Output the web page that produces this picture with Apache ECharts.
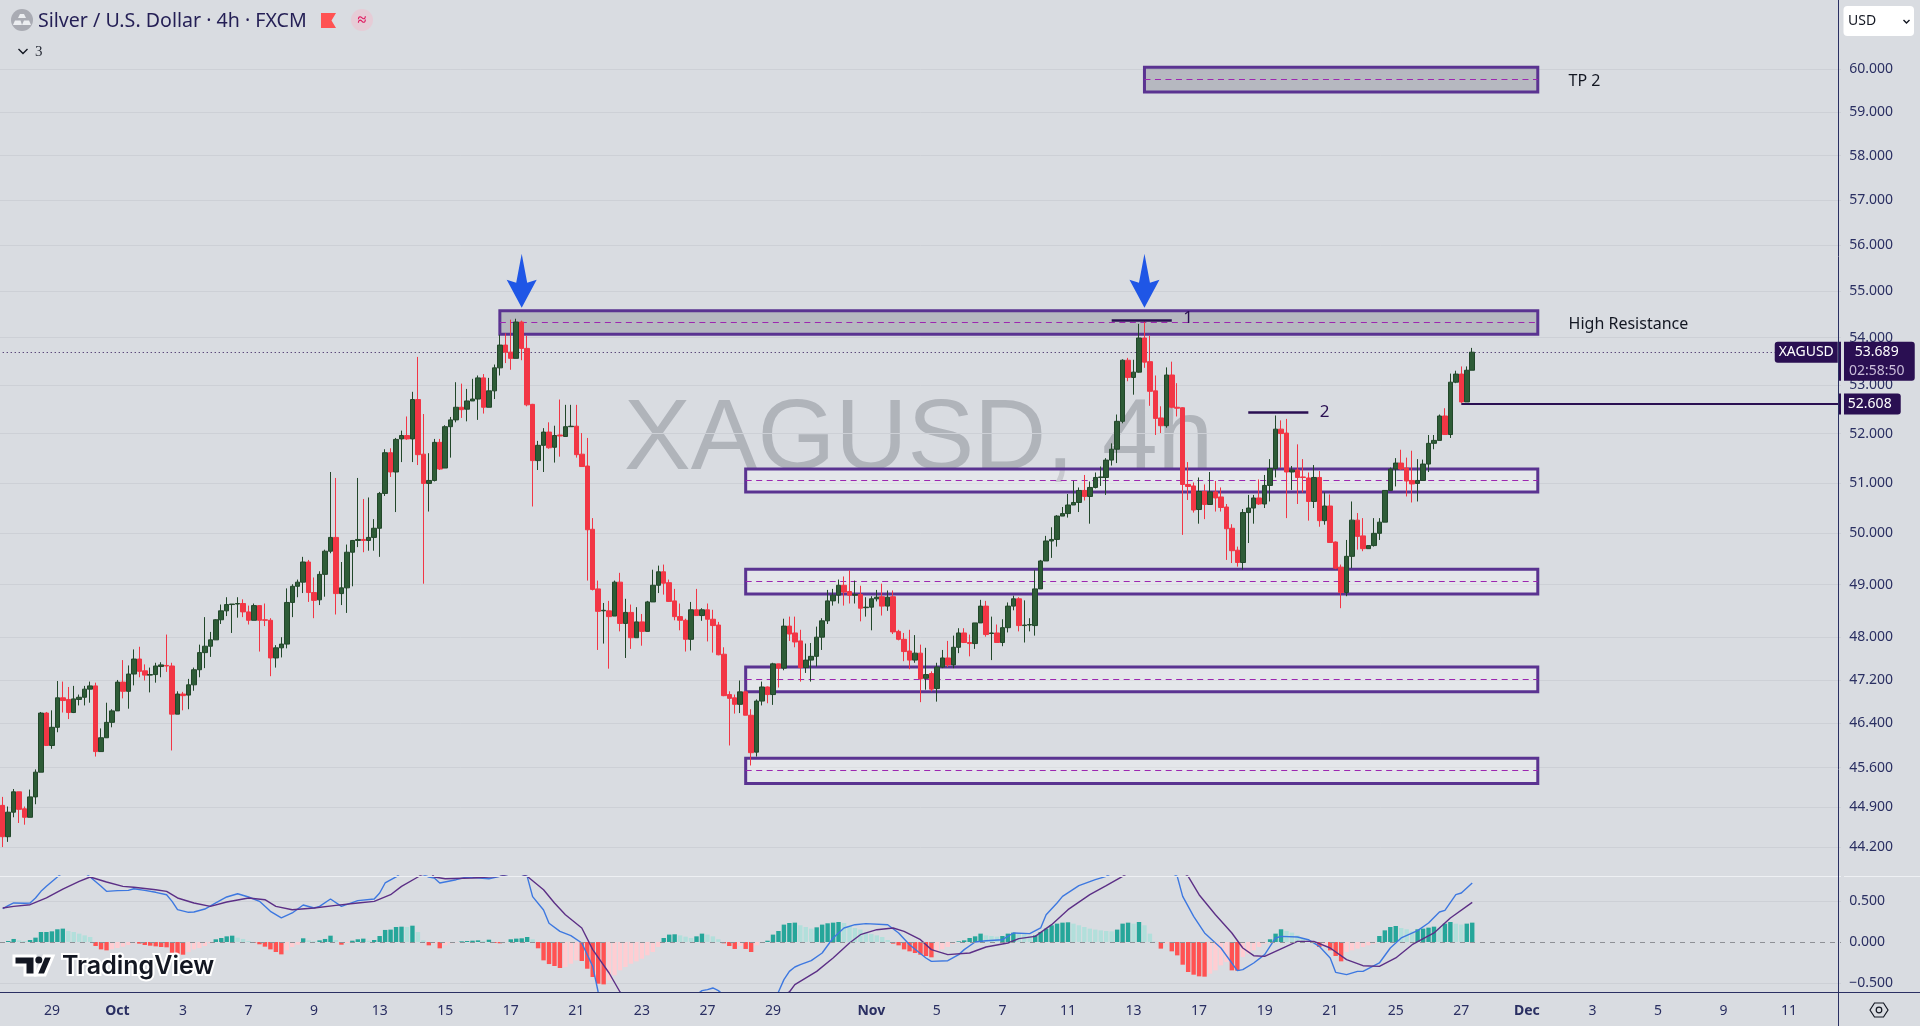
<!DOCTYPE html>
<html>
<head>
<meta charset="utf-8">
<title>Silver / U.S. Dollar 4h</title>
<style>
    html, body { margin: 0; padding: 0; background: #d9dce1; }
    #main { width: 1920px; height: 1026px; }
</style>
<script src="https://cdn.jsdelivr.net/npm/echarts@6/dist/echarts.min.js"></script>
</head>
<body>
<div id="main"></div>
<script>
// 4h candles
var opens = [
    44.93,44.38,44.81,45.17,44.87,44.72,45.08,45.52,46.59,46.00,
    46.33,46.87,46.84,46.60,46.84,46.88,47.03,47.09,45.89,46.14,
    46.42,46.63,47.16,46.99,47.31,47.59,47.37,47.29,47.30,47.45,
    47.47,47.46,46.57,46.94,46.92,47.11,47.39,47.71,47.83,47.95,
    48.33,48.50,48.62,48.63,48.64,48.48,48.32,48.60,48.33,48.32,
    47.61,47.80,47.87,48.66,48.97,49.05,49.44,48.85,48.71,49.20,
    49.65,49.92,48.83,48.94,49.63,49.86,49.88,49.86,49.92,50.10,
    50.79,51.61,51.22,51.89,51.96,51.89,52.70,51.58,50.99,51.05,
    51.82,51.30,52.14,52.28,52.54,52.50,52.67,52.71,53.15,52.54,
    52.88,53.36,53.84,53.69,53.56,54.33,53.77,52.60,51.45,51.76,
    52.03,51.72,51.97,51.94,52.14,52.15,51.58,51.34,50.08,48.92,
    48.50,48.50,48.40,49.05,48.26,48.47,47.99,48.29,48.11,48.67,
    48.99,49.25,49.04,48.69,48.39,48.32,47.96,48.52,48.41,48.52,
    48.34,48.23,47.68,46.93,46.87,46.75,46.98,46.55,45.88,46.81,
    47.07,46.93,47.50,47.42,48.21,48.08,47.93,47.43,47.57,47.64,
    48.00,48.31,48.69,48.80,48.99,48.87,48.80,48.81,48.56,48.57,
    48.73,48.77,48.59,48.77,48.11,47.96,47.74,47.57,47.70,47.23,
    47.32,47.04,47.44,47.61,47.48,47.81,48.08,47.90,47.88,48.27,
    48.59,48.07,48.08,47.90,48.18,48.59,48.73,48.22,48.23,48.22,
    48.92,49.46,49.85,49.88,50.34,50.39,50.56,50.61,50.85,50.73,
    50.91,51.11,51.11,51.46,51.68,52.25,53.52,53.16,53.27,53.99,
    53.49,52.88,52.32,52.16,53.21,52.54,52.53,50.97,50.94,50.47,
    50.83,50.57,50.82,50.72,50.52,50.10,49.67,49.43,50.41,50.50,
    50.70,50.58,50.95,51.29,52.09,52.01,51.22,51.26,51.12,51.10,
    50.63,51.11,50.25,50.54,49.83,49.34,48.85,49.55,50.26,49.95,
    49.70,49.76,50.00,50.22,50.85,51.28,51.40,51.30,51.05,50.99,
    51.05,51.38,51.80,51.86,52.36,51.98,53.06,53.23,52.65,53.31
];
var closes = [
    44.38,44.81,45.17,44.86,44.72,45.08,45.52,46.59,46.00,46.33,
    46.87,46.82,46.60,46.85,46.88,47.03,47.09,45.89,46.14,46.42,
    46.63,47.16,46.99,47.31,47.59,47.36,47.29,47.30,47.46,47.48,
    47.46,46.57,46.94,46.91,47.11,47.39,47.71,47.83,47.95,48.33,
    48.50,48.62,48.63,48.64,48.48,48.32,48.60,48.32,48.32,47.61,
    47.80,47.87,48.66,48.97,49.05,49.44,48.85,48.70,49.20,49.65,
    49.92,48.83,48.94,49.63,49.86,49.88,49.86,49.92,50.10,50.79,
    51.61,51.22,51.88,51.96,51.89,52.70,51.57,50.99,51.05,51.82,
    51.28,52.14,52.28,52.54,52.49,52.67,52.71,53.15,52.54,52.88,
    53.36,53.84,53.69,53.56,54.33,53.77,52.59,51.45,51.76,52.03,
    51.71,51.96,51.95,52.14,52.15,51.57,51.33,50.07,48.91,48.49,
    48.51,48.39,49.05,48.26,48.47,47.99,48.29,48.11,48.67,48.99,
    49.25,49.03,48.68,48.39,48.32,47.96,48.52,48.41,48.52,48.34,
    48.22,47.67,46.91,46.86,46.75,46.98,46.55,45.87,46.81,47.07,
    46.93,47.50,47.42,48.21,48.06,47.91,47.43,47.57,47.64,48.00,
    48.31,48.69,48.80,48.99,48.86,48.80,48.81,48.55,48.57,48.73,
    48.76,48.59,48.76,48.10,47.96,47.73,47.57,47.70,47.22,47.30,
    47.03,47.44,47.61,47.48,47.81,48.08,47.90,47.88,48.27,48.59,
    48.05,48.08,47.90,48.18,48.59,48.73,48.22,48.23,48.24,48.92,
    49.46,49.85,49.88,50.34,50.39,50.56,50.61,50.85,50.73,50.91,
    51.11,51.12,51.46,51.68,52.25,53.52,53.16,53.27,53.99,53.48,
    52.87,52.31,52.16,53.21,52.54,52.52,50.97,50.93,50.46,50.83,
    50.57,50.82,50.70,50.51,50.09,49.66,49.43,50.41,50.50,50.70,
    50.58,50.95,51.29,52.09,52.00,51.22,51.26,51.11,51.11,50.63,
    51.11,50.25,50.54,49.82,49.32,48.85,49.55,50.26,49.94,49.70,
    49.76,50.00,50.22,50.85,51.28,51.40,51.28,51.04,50.98,51.05,
    51.38,51.80,51.86,52.36,51.98,53.06,53.23,52.65,53.31,53.689
];
var lows = [
    44.20,44.29,44.72,44.62,44.59,44.72,44.95,45.52,46.00,45.94,
    46.24,46.60,46.48,46.59,46.73,46.73,46.78,45.80,45.89,46.14,
    46.33,46.63,46.86,46.67,47.10,47.25,47.19,46.97,47.15,47.25,
    47.35,45.91,46.57,46.64,46.66,47.00,47.25,47.42,47.63,47.95,
    48.25,48.40,48.08,48.37,48.38,48.24,48.32,47.73,48.21,47.27,
    47.43,47.62,47.79,48.38,48.76,48.84,48.67,48.36,48.61,48.77,
    49.61,48.43,48.61,48.46,48.97,49.73,49.63,49.66,49.66,49.54,
    50.74,51.12,50.42,51.42,51.87,51.42,51.36,49.02,50.43,51.03,
    51.26,51.30,51.51,52.23,52.32,52.25,52.67,52.28,52.41,52.54,
    52.71,53.20,53.46,53.32,53.56,53.52,52.56,50.53,51.26,51.22,
    51.69,51.41,51.53,51.94,52.14,51.51,51.33,49.08,48.89,47.76,
    47.88,47.41,48.40,48.11,47.61,47.78,47.99,47.84,48.11,48.67,
    48.84,48.81,48.67,48.32,48.13,47.73,47.75,48.41,48.31,47.92,
    47.71,47.66,46.90,46.00,46.58,46.59,46.55,45.64,45.80,46.73,
    46.77,46.74,47.06,47.38,47.93,47.81,47.17,47.33,47.17,47.45,
    47.76,48.25,48.60,48.64,48.60,48.64,48.64,48.30,48.39,48.13,
    48.68,48.41,48.50,48.06,47.94,47.55,47.40,47.52,46.79,47.02,
    46.99,46.80,47.42,47.44,47.42,47.70,47.89,47.64,47.78,48.27,
    48.01,47.57,47.90,47.83,48.09,48.51,48.11,47.90,48.11,48.03,
    48.92,49.46,49.52,49.74,50.34,50.31,50.56,50.42,50.65,50.19,
    50.89,50.94,50.76,51.35,51.40,52.21,53.08,52.80,53.26,53.36,
    52.57,51.97,52.01,52.12,52.52,52.35,49.97,50.66,50.41,50.19,
    50.28,50.57,50.43,50.43,49.48,49.42,49.35,49.29,49.81,50.19,
    50.56,50.50,50.63,51.11,51.30,50.30,50.86,50.58,50.81,50.25,
    50.50,50.13,50.17,49.82,49.30,48.55,48.78,49.32,49.68,49.65,
    49.70,49.74,49.87,50.22,50.85,50.93,51.26,50.73,50.61,50.63,
    51.05,51.22,51.68,51.86,51.97,51.91,53.04,52.63,52.65,53.31
];
var highs = [
    45.08,44.91,45.22,45.17,44.91,45.21,45.57,46.61,46.61,46.64,
    47.18,47.17,47.07,47.09,46.93,47.09,47.17,47.15,46.31,46.78,
    46.66,47.20,47.57,47.47,47.77,47.82,47.49,47.43,47.52,47.53,
    48.05,47.52,46.99,46.98,47.22,47.43,47.86,48.38,48.10,48.34,
    48.62,48.76,48.63,48.76,48.72,48.60,48.64,48.60,48.64,48.36,
    47.85,48.00,48.93,49.01,49.10,49.54,49.48,49.14,49.26,49.68,
    51.22,51.10,49.44,49.78,49.87,51.10,50.68,50.71,50.28,50.82,
    51.68,51.70,51.91,52.06,52.35,52.86,53.59,52.40,51.60,51.89,
    51.89,52.17,52.34,53.06,53.03,52.92,53.13,53.20,53.23,53.15,
    53.43,54.06,54.09,54.38,54.40,54.36,54.04,52.61,51.85,52.11,
    52.23,52.16,52.70,52.59,52.59,52.59,52.01,51.91,50.30,49.08,
    48.65,48.69,49.08,49.23,48.73,48.62,48.57,48.44,48.69,49.29,
    49.37,49.39,49.10,48.92,48.64,48.35,48.67,48.92,48.55,48.64,
    48.52,48.29,47.81,46.99,46.93,47.19,47.00,46.66,46.84,47.17,
    47.08,47.52,47.50,48.35,48.39,48.39,48.14,47.88,47.89,48.20,
    48.36,48.90,48.92,49.10,49.16,49.28,49.08,48.98,48.76,48.78,
    48.90,49.02,48.89,48.89,48.14,48.08,48.14,48.04,47.86,47.80,
    47.36,47.52,47.76,47.93,48.03,48.17,48.17,48.05,48.27,48.71,
    48.69,48.39,48.24,48.34,48.66,48.79,48.76,48.70,48.36,49.28,
    49.48,49.95,50.12,50.36,50.52,50.78,51.04,50.91,51.16,51.03,
    51.21,51.33,51.50,51.80,52.39,53.54,53.57,53.53,54.29,54.36,
    54.04,53.20,52.56,53.37,53.49,53.04,52.54,51.42,51.01,51.11,
    50.97,51.22,51.04,50.91,50.58,50.18,49.74,50.48,50.76,50.76,
    51.07,51.16,51.48,52.37,52.27,52.30,51.34,51.78,51.48,51.21,
    51.36,51.24,50.81,50.77,49.84,49.39,49.87,50.63,50.40,50.30,
    49.76,50.30,50.30,50.85,51.31,51.50,51.67,51.51,51.65,51.48,
    51.47,51.97,51.97,52.39,52.52,53.24,53.30,53.39,53.39,53.78
];

// MACD histogram, one bar per candle
var histogram = [
    -0.012,0.012,0.037,0.020,0.012,0.024,0.053,0.122,0.122,0.130,
    0.155,0.163,0.134,0.122,0.102,0.081,0.061,-0.049,-0.090,-0.102,
    -0.090,-0.073,-0.057,-0.037,-0.016,-0.020,-0.037,-0.045,-0.053,-0.061,
    -0.065,-0.130,-0.142,-0.155,-0.122,-0.090,-0.073,-0.049,-0.016,0.033,
    0.049,0.069,0.077,0.053,0.037,0.012,-0.008,-0.028,-0.057,-0.090,
    -0.122,-0.151,-0.102,-0.061,-0.033,0.045,0.020,0.008,0.020,0.037,
    0.077,0.024,-0.033,-0.012,0.016,0.033,0.041,0.016,0.024,0.073,
    0.147,0.151,0.183,0.187,0.183,0.199,0.122,0.020,-0.041,-0.020,
    -0.077,-0.041,-0.016,-0.004,0.008,0.012,0.016,0.020,0.012,0.028,
    -0.012,-0.016,-0.004,0.033,0.041,0.045,0.061,0.033,-0.077,-0.224,
    -0.269,-0.293,-0.317,-0.305,-0.265,-0.224,-0.232,-0.326,-0.427,-0.509,
    -0.517,-0.468,-0.407,-0.346,-0.305,-0.265,-0.236,-0.204,-0.163,-0.122,
    -0.061,0.049,0.090,0.094,0.081,0.065,0.049,0.069,0.102,0.090,
    0.069,0.033,-0.016,-0.049,-0.085,-0.049,-0.085,-0.122,-0.041,-0.008,
    0.016,0.090,0.134,0.212,0.232,0.236,0.204,0.183,0.163,0.179,
    0.212,0.228,0.236,0.244,0.232,0.195,0.171,0.151,0.122,0.098,
    0.081,0.061,0.024,-0.020,-0.041,-0.090,-0.114,-0.134,-0.155,-0.171,
    -0.187,-0.130,-0.090,-0.061,-0.020,0.008,0.020,0.049,0.069,0.102,
    0.081,0.073,0.065,0.073,0.102,0.114,0.098,0.094,0.073,0.081,
    0.122,0.163,0.204,0.224,0.236,0.240,0.224,0.204,0.183,0.163,
    0.151,0.142,0.134,0.130,0.151,0.224,0.236,0.224,0.244,0.204,
    0.102,0.004,-0.081,-0.020,-0.114,-0.163,-0.277,-0.366,-0.399,-0.419,
    -0.423,-0.387,-0.346,-0.285,-0.244,-0.346,-0.350,-0.183,-0.142,-0.102,
    -0.061,-0.020,0.033,0.102,0.155,0.134,0.114,0.081,0.049,0.020,
    -0.012,-0.061,-0.041,-0.102,-0.171,-0.236,-0.122,-0.102,-0.081,-0.061,
    -0.041,-0.020,0.073,0.142,0.183,0.195,0.171,0.155,0.130,0.155,
    0.163,0.175,0.187,0.171,0.224,0.244,0.224,0.212,0.224,0.236
];

// MACD and signal lines as [bar, value], read where the line bends
var macdLine = [
    [0,0.407],[1,0.443],[2,0.476],[4,0.472],[5,0.476],[6,0.537],[7,0.618],[8,0.679],[10,0.793],[13,0.95],
    [16,0.793],[18,0.679],[19,0.618],[21,0.626],[23,0.630],[24,0.650],[26,0.630],[28,0.606],[30,0.577],[31,0.496],
    [32,0.394],[34,0.362],[35,0.366],[37,0.402],[39,0.476],[41,0.549],[43,0.589],[45,0.549],[47,0.496],[49,0.374],
    [51,0.293],[53,0.354],[55,0.451],[57,0.415],[58,0.435],[60,0.524],[62,0.435],[65,0.504],[68,0.524],[69,0.598],
    [70,0.720],[72,0.793],[74,0.90],[78,0.793],[79,0.780],[80,0.720],[83,0.760],[85,0.793],[89,0.772],[91,0.80],
    [94,0.85],[96,0.80],[97,0.553],[99,0.390],[100,0.228],[102,0.130],[104,0.077],[106,-0.012],[108,-0.297],[109,-0.610],
    [112,-0.95],[118,-1.0],[124,-0.8],[128,-0.593],[129,-0.581],[130,-0.561],[131,-0.593],[132,-0.65],[136,-0.95],[141,-0.85],
    [142,-0.610],[143,-0.459],[144,-0.358],[145,-0.305],[146,-0.276],[148,-0.228],[150,-0.134],[152,0.049],[154,0.171],[156,0.211],
    [158,0.224],[162,0.211],[164,0.110],[166,-0.033],[169,-0.195],[170,-0.236],[173,-0.228],[175,-0.154],[176,-0.093],[178,0],
    [180,0.016],[183,0.028],[185,0.110],[188,0.102],[190,0.171],[191,0.333],[193,0.476],[194,0.557],[197,0.687],[200,0.760],
    [202,0.801],[206,0.95],[210,1.0],[215,0.801],[216,0.557],[218,0.313],[220,0.110],[223,-0.073],[226,-0.350],[227,-0.337],
    [229,-0.256],[231,-0.154],[233,0.049],[234,0.069],[237,0.061],[239,0.028],[241,-0.053],[243,-0.195],[244,-0.370],[246,-0.398],
    [248,-0.358],[249,-0.358],[252,-0.256],[254,-0.073],[256,0.049],[259,0.138],[261,0.232],[263,0.366],[264,0.386],[266,0.577],
    [267,0.598],[269,0.720]
];
var signalLine = [
    [0,0.415],[2,0.435],[5,0.455],[8,0.537],[11,0.646],[14,0.740],[16,0.793],[19,0.732],[22,0.679],[24,0.667],
    [28,0.638],[30,0.618],[32,0.537],[35,0.476],[38,0.435],[41,0.488],[45,0.537],[48,0.516],[50,0.435],[53,0.394],
    [57,0.415],[61,0.447],[65,0.476],[68,0.496],[71,0.577],[73,0.679],[76,0.793],[78,0.87],[79,0.793],[81,0.772],
    [86,0.780],[91,0.801],[94,0.85],[96,0.801],[99,0.638],[101,0.476],[103,0.333],[106,0.171],[108,-0.093],[111,-0.378],
    [113,-0.610],[120,-1.05],[130,-0.95],[138,-0.8],[144,-0.610],[145,-0.520],[149,-0.358],[152,-0.195],[155,-0.012],[157,0.089],
    [160,0.150],[163,0.171],[165,0.130],[168,0.028],[170,-0.093],[173,-0.154],[177,-0.134],[180,-0.061],[184,-0.012],[186,0.041],
    [189,0.069],[192,0.211],[195,0.394],[199,0.577],[202,0.687],[205,0.801],[210,1.0],[214,0.95],[217,0.801],[219,0.577],
    [222,0.333],[225,0.110],[227,-0.073],[229,-0.167],[231,-0.175],[235,-0.053],[237,0.008],[240,0.008],[243,-0.073],[246,-0.215],
    [249,-0.289],[252,-0.297],[255,-0.195],[258,-0.033],[262,0.110],[265,0.293],[269,0.484]
];

// axis ticks
var priceTicks = [60, 59, 58, 57, 56, 55, 54, 53, 52, 51, 50, 49, 48, 47.2, 46.4, 45.6, 44.9, 44.2];
var macdTicks = [0.5, 0, -0.5];
var dateBars = [9, 21, 33, 45, 57, 69, 81, 93, 105, 117, 129, 141, 159, 171, 183, 195, 207, 219, 231, 243, 255, 267, 279, 291, 303, 315, 327];
var dateLabels = ['29', 'Oct', '3', '7', '9', '13', '15', '17', '21', '23', '27', '29', 'Nov', '5', '7', '11', '13', '17', '19', '21', '25', '27', 'Dec', '3', '5', '9', '11'];

// drawn zones: [first bar, last bar, top price, bottom price, middle price]
var resistanceZones = [
    [209, 281, 60.05, 59.47, 59.77],
    [91, 281, 54.57, 54.07, 54.33]
];
var supportZones = [
    [136, 281, 51.28, 50.82, 51.06],
    [136, 281, 49.30, 48.82, 49.07],
    [136, 281, 47.44, 46.98, 47.22],
    [136, 281, 45.77, 45.32, 45.56]
];
// drawn levels: [first bar, last bar, price]
var peakLines = [
    [203, 214, 54.37],
    [228, 239, 52.44]
];
var arrowBars = [95, 209];
var arrowPrice = 55.22;
var lastPrice = 53.689;
var stopPrice = 52.608;
var stopBar = 267;
var countdown = '02:58:50';
var barCount = 337;

var navy = '#2a2f62';
var purple = '#5a3391';
var tagColor = '#2a0f52';
var uiFont = '"Noto Sans"';

var categories = [];
for (var i = 0; i < barCount; i++) {
    var pos = dateBars.indexOf(i);
    categories.push(pos >= 0 ? dateLabels[pos] : '');
}

var candles = opens.map(function (o, i) {
    return [o, closes[i], lows[i], highs[i]];
});

// tradingview colours the bars by sign and direction
var histData = histogram.map(function (v, i) {
    var prev = i > 0 ? histogram[i - 1] : 0;
    var color;
    if (v >= 0) {
        color = v >= prev ? '#26a69a' : '#b2dfdb';
    } else {
        color = v < prev ? '#ff5252' : '#ffcdd2';
    }
    return { value: v, itemStyle: { color: color } };
});

function zoneAreas(zones) {
    return zones.map(function (z) {
        return [{ coord: [z[0], z[2]] }, { coord: [z[1], z[3]] }];
    });
}

var zoneMiddles = resistanceZones.concat(supportZones).map(function (z) {
    return [{ coord: [z[0], z[4]] }, { coord: [z[1], z[4]] }];
});

function noteLabel(bar, price, text, size, color, gap) {
    return {
        coord: [bar, price],
        symbol: 'circle',
        symbolSize: 1,
        itemStyle: { color: 'rgba(0,0,0,0)' },
        label: {
            show: true,
            position: 'right',
            distance: gap,
            offset: [0, 1],
            formatter: text,
            color: color,
            fontSize: size,
            fontFamily: uiFont
        }
    };
}

// box tag on the price scale, the rich block keeps the text centred in it
function priceTag(price, side, text, width, corners) {
    return {
        coord: [barCount - 1, price],
        symbol: 'circle',
        symbolSize: 1,
        itemStyle: { color: 'rgba(0,0,0,0)' },
        label: {
            show: true,
            position: side,
            distance: 0,
            formatter: '{a|' + text + '}',
            backgroundColor: tagColor,
            borderRadius: corners,
            rich: {
                a: { color: '#fff', fontSize: 14, fontFamily: uiFont, width: width, height: 21, lineHeight: 21, align: 'center' }
            }
        }
    };
}

var chart = echarts.init(document.getElementById('main'), null, { renderer: 'canvas' });

var option = {
    animation: false,
    backgroundColor: '#d9dce1',
    grid: [
        { left: -1.43, top: 0, width: 1842.4, height: 876 },
        { left: -1.43, top: 876, width: 1842.4, height: 116 }
    ],
    xAxis: [
        {
            type: 'category',
            gridIndex: 0,
            data: categories,
            axisLine: { show: false },
            axisTick: { show: false },
            axisLabel: { show: false },
            splitLine: { show: false }
        },
        {
            type: 'category',
            gridIndex: 1,
            data: categories,
            axisLine: { show: false },
            axisTick: { show: false },
            splitLine: { show: false },
            axisLabel: {
                margin: 12,
                fontSize: 14,
                fontFamily: uiFont,
                color: navy,
                hideOverlap: false,
                interval: function (index, value) {
                    return value !== '';
                },
                formatter: function (value) {
                    return /[A-Z]/.test(value) ? '{m|' + value + '}' : value;
                },
                rich: {
                    m: { fontSize: 14, fontWeight: 700, fontFamily: uiFont, color: navy }
                }
            }
        }
    ],
    yAxis: [
        {
            type: 'log',
            logBase: 10,
            gridIndex: 0,
            position: 'right',
            offset: -2.8,
            min: 43.70,
            max: 61.66,
            axisLine: { show: false },
            axisTick: { show: false, customValues: priceTicks },
            splitLine: { show: true, lineStyle: { color: '#cdd0d6', width: 1 } },
            axisLabel: {
                customValues: priceTicks,
                margin: 11,
                padding: [2, 0, 0, 0],
                fontSize: 14,
                fontFamily: uiFont,
                color: navy,
                formatter: function (v) {
                    return v.toFixed(3);
                }
            }
        },
        {
            type: 'value',
            gridIndex: 1,
            position: 'right',
            offset: -2.8,
            min: -0.61,
            max: 0.805,
            axisLine: { show: false },
            axisTick: { show: false, customValues: [0.5, -0.5] },
            splitLine: { show: true, lineStyle: { color: '#cdd0d6', width: 1 } },
            axisLabel: {
                customValues: macdTicks,
                margin: 11,
                padding: [2, 0, 0, 0],
                fontSize: 14,
                fontFamily: uiFont,
                color: navy,
                formatter: function (v) {
                    return (v < 0 ? '\u2212' : '') + Math.abs(v).toFixed(3);
                }
            }
        }
    ],
    series: [
        {
            // grey and light boxes under the candles
            type: 'line',
            xAxisIndex: 0,
            yAxisIndex: 0,
            data: [],
            z: 1,
            silent: true,
            markArea: {
                silent: true,
                z: 1,
                itemStyle: { color: 'rgba(120,123,134,0.36)', borderColor: purple, borderWidth: 3 },
                data: zoneAreas(resistanceZones)
            }
        },
        {
            type: 'line',
            xAxisIndex: 0,
            yAxisIndex: 0,
            data: [],
            z: 1,
            silent: true,
            markArea: {
                silent: true,
                z: 1,
                itemStyle: { color: 'rgba(255,255,255,0.3)', borderColor: purple, borderWidth: 3 },
                data: zoneAreas(supportZones)
            },
            markLine: {
                silent: true,
                z: 1,
                symbol: 'none',
                label: { show: false },
                lineStyle: { color: '#9c27b0', type: [6, 4.5], width: 1 },
                data: zoneMiddles
            }
        },
        {
            // last price dotted line
            type: 'line',
            xAxisIndex: 0,
            yAxisIndex: 0,
            data: [],
            z: 1,
            silent: true,
            markLine: {
                silent: true,
                z: 1,
                symbol: 'none',
                label: { show: false },
                lineStyle: { color: tagColor, type: [1, 3], width: 1 },
                data: [[{ coord: [0, lastPrice] }, { coord: [barCount - 1, lastPrice] }]]
            }
        },
        {
            name: 'XAGUSD',
            type: 'candlestick',
            xAxisIndex: 0,
            yAxisIndex: 0,
            z: 3,
            barWidth: 5,
            data: candles,
            itemStyle: {
                color: '#2e5c37',
                color0: '#f23645',
                borderColor: '#22472a',
                borderColor0: '#f23645',
                borderWidth: 1
            }
        },
        {
            // peak lines, notes, arrows and price tags on top
            type: 'line',
            xAxisIndex: 0,
            yAxisIndex: 0,
            data: [],
            z: 4,
            silent: true,
            markLine: {
                silent: true,
                z: 4,
                symbol: 'none',
                label: { show: false },
                lineStyle: { color: tagColor, type: 'solid', width: 2.5 },
                data: peakLines.map(function (p) {
                    return [{ coord: [p[0], p[2]] }, { coord: [p[1], p[2]] }];
                }).concat([
                    [{ coord: [stopBar, stopPrice], lineStyle: { width: 2 } }, { coord: [barCount - 1, stopPrice] }]
                ])
            },
            markPoint: {
                silent: true,
                z: 4,
                data: arrowBars.map(function (bar) {
                    return {
                        coord: [bar, arrowPrice],
                        symbol: 'path://M15 0 L20.5 29 L30 26 L15 54 L0 26 L9.5 29 Z',
                        symbolSize: [30, 54],
                        itemStyle: { color: '#1f56e6' },
                        label: { show: false }
                    };
                }).concat([
                    noteLabel(286, 59.74, 'TP 2', 16, '#131722', 3),
                    noteLabel(286, 54.29, 'High Resistance', 16, '#131722', 3),
                    noteLabel(216, 54.44, '1', 17, tagColor, 0),
                    noteLabel(241, 52.46, '2', 17, tagColor, 0),
                    priceTag(stopPrice, 'right', stopPrice.toFixed(3), 62, [0, 3, 3, 0]),
                    priceTag(lastPrice, 'left', 'XAGUSD', 63, [3, 0, 0, 3]),
                    {
                        coord: [barCount - 1, lastPrice],
                        symbol: 'circle',
                        symbolSize: 1,
                        itemStyle: { color: 'rgba(0,0,0,0)' },
                        label: {
                            show: true,
                            position: 'right',
                            distance: 0,
                            offset: [0, 9],
                            formatter: '{p|' + lastPrice.toFixed(3) + '}\n{t|' + countdown + '}',
                            backgroundColor: tagColor,
                            borderRadius: [0, 3, 3, 0],
                            rich: {
                                p: { color: '#fff', fontSize: 14, fontFamily: uiFont, width: 76, height: 20, lineHeight: 20, align: 'center' },
                                t: { color: '#c9bdd9', fontSize: 14, fontFamily: uiFont, width: 76, height: 19, lineHeight: 19, align: 'center' }
                            }
                        }
                    }
                ])
            }
        },
        {
            name: 'Histogram',
            type: 'bar',
            xAxisIndex: 1,
            yAxisIndex: 1,
            barWidth: 4.4,
            data: histData,
            markLine: {
                silent: true,
                symbol: 'none',
                label: { show: false },
                lineStyle: { color: '#8e9096', type: [5, 5], width: 1 },
                data: [{ yAxis: 0 }]
            }
        },
        {
            name: 'MACD',
            type: 'line',
            xAxisIndex: 1,
            yAxisIndex: 1,
            z: 3,
            showSymbol: false,
            data: macdLine,
            lineStyle: { color: '#3d78e0', width: 1.4 }
        },
        {
            name: 'Signal',
            type: 'line',
            xAxisIndex: 1,
            yAxisIndex: 1,
            z: 3,
            showSymbol: false,
            data: signalLine,
            lineStyle: { color: '#5c2f86', width: 1.4 }
        }
    ],
    graphic: [
        // big watermark
        {
            type: 'text',
            z: 0,
            silent: true,
            style: {
                x: 624, y: 441,
                text: 'XAGUSD, 4h',
                fill: 'rgba(120,123,134,0.42)',
                font: '100px "Liberation Sans"',
                verticalAlign: 'middle'
            }
        },
        // pane frames
        { type: 'line', z: 40, silent: true, shape: { x1: 0, y1: 876.5, x2: 1920, y2: 876.5 }, style: { stroke: '#eef0f3', lineWidth: 1 } },
        { type: 'rect', z: 41, silent: true, shape: { x: 1841, y: 0, width: 3, height: 1026 }, style: { fill: '#d9dce1' } },
        { type: 'line', z: 42, silent: true, shape: { x1: 1838.5, y1: 0, x2: 1838.5, y2: 1026 }, style: { stroke: navy, lineWidth: 1 } },
        { type: 'line', z: 42, silent: true, shape: { x1: 0, y1: 992.5, x2: 1920, y2: 992.5 }, style: { stroke: navy, lineWidth: 1 } },
        // legend row
        { type: 'circle', z: 45, silent: true, shape: { cx: 22, cy: 20, r: 11 }, style: { fill: '#a9abb3' } },
        { type: 'polygon', z: 46, silent: true, shape: { points: [[18, 18], [20, 14], [24, 14], [26, 18]] }, style: { fill: '#eceef1' } },
        { type: 'polygon', z: 46, silent: true, shape: { points: [[13, 25], [15, 20.5], [20.5, 20.5], [22, 25]] }, style: { fill: '#eceef1' } },
        { type: 'polygon', z: 46, silent: true, shape: { points: [[22, 25], [24, 20.5], [29, 20.5], [31, 25]] }, style: { fill: '#eceef1' } },
        {
            type: 'text', z: 45, silent: true,
            style: { x: 38, y: 21, text: 'Silver / U.S. Dollar \u00b7 4h \u00b7 FXCM', fill: '#241f55', font: '19.6px ' + uiFont, verticalAlign: 'middle' }
        },
        { type: 'polygon', z: 45, silent: true, shape: { points: [[321, 13], [336, 13], [331.5, 20.5], [336, 28], [321, 28]] }, style: { fill: '#ff5252' } },
        { type: 'circle', z: 45, silent: true, shape: { cx: 362, cy: 20, r: 11 }, style: { fill: '#e6ccd6' } },
        {
            type: 'text', z: 46, silent: true,
            style: { x: 362, y: 20, text: '\u2248', fill: '#e0185f', font: '700 16px ' + uiFont, align: 'center', verticalAlign: 'middle' }
        },
        { type: 'polyline', z: 45, silent: true, shape: { points: [[18.5, 49], [23, 53.5], [27.5, 49]] }, style: { stroke: '#131722', lineWidth: 1.4, fill: 'none' } },
        {
            type: 'text', z: 45, silent: true,
            style: { x: 35, y: 52, text: '3', fill: '#2a2e39', font: '15px "Liberation Serif"', verticalAlign: 'middle' }
        },
        // currency box
        { type: 'rect', z: 45, silent: true, shape: { x: 1843.5, y: 6, width: 70.5, height: 30, r: 4 }, style: { fill: '#ffffff' } },
        {
            type: 'text', z: 46, silent: true,
            style: { x: 1848, y: 21.5, text: 'USD', fill: '#131722', font: '14px ' + uiFont, verticalAlign: 'middle' }
        },
        { type: 'polyline', z: 46, silent: true, shape: { points: [[1903.5, 20], [1906.5, 23], [1909.5, 20]] }, style: { stroke: '#131722', lineWidth: 1.4, fill: 'none' } },
        // settings icon
        { type: 'polygon', z: 45, silent: true, shape: { points: [[1870, 1010], [1874.5, 1003], [1883.5, 1003], [1888, 1010], [1883.5, 1017], [1874.5, 1017]] }, style: { stroke: '#131722', lineWidth: 1.2, fill: 'none' } },
        { type: 'circle', z: 45, silent: true, shape: { cx: 1879, cy: 1010, r: 2.8 }, style: { stroke: '#131722', lineWidth: 1.2, fill: 'none' } },
        // logo
        { type: 'polygon', z: 50, silent: true, shape: { points: [[14, 956], [35, 956], [35, 975], [25, 975], [25, 965], [14, 965]] }, style: { fill: '#131722', stroke: '#fff', lineWidth: 3 } },
        { type: 'polygon', z: 50, silent: true, shape: { points: [[44, 956], [53, 956], [45, 975], [36, 975]] }, style: { fill: '#131722', stroke: '#fff', lineWidth: 3 } },
        { type: 'circle', z: 51, silent: true, shape: { cx: 38.8, cy: 960, r: 3.5 }, style: { fill: '#131722' } },
        {
            type: 'text', z: 50, silent: true,
            style: { x: 62, y: 966, text: 'TradingView', fill: '#131722', stroke: '#fff', lineWidth: 4, font: '600 25px Inter', verticalAlign: 'middle' }
        }
    ]
};

chart.setOption(option);
</script>
</body>
</html>
